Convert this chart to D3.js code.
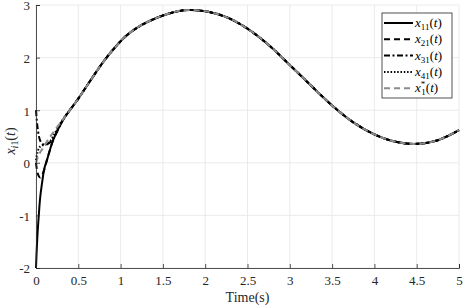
<!DOCTYPE html>
<html>
<head>
<meta charset="utf-8">
<script src="https://cdn.jsdelivr.net/npm/d3@7"></script>
<style>
  body { margin: 0; background: #fff; }
  svg { display: block; font-family: "Times New Roman", "Liberation Serif", serif; }
</style>
</head>
<body>
<svg id="chart" width="463" height="308"></svg>
<script>
// early transient part (t <= 0.35), each agent starts from its own value
const timeEarly = [0, 0.01, 0.02, 0.035, 0.05, 0.07, 0.1, 0.13, 0.16, 0.2, 0.25, 0.3, 0.35];
const x11Early = [-2, -1.6, -1.3, -0.95, -0.65, -0.4, -0.1, 0.05, 0.22, 0.42, 0.6, 0.76, 0.89];
const x21Early = [0, -0.12, -0.2, -0.26, -0.28, -0.24, -0.12, 0.06, 0.22, 0.42, 0.6, 0.76, 0.89];
const x31Early = [1, 0.8, 0.65, 0.5, 0.42, 0.37, 0.34, 0.35, 0.38, 0.46, 0.6, 0.76, 0.89];
const x41Early = [0.05, 0.14, 0.21, 0.28, 0.31, 0.33, 0.34, 0.36, 0.4, 0.5, 0.64, 0.78, 0.9];
const x1StarEarly = [0, 0.05, 0.1, 0.15, 0.2, 0.25, 0.33, 0.41, 0.48, 0.57, 0.68, 0.78, 0.89];

// after consensus all curves follow the reference x1*
const timeMain = [0.4, 0.5, 0.6, 0.7, 0.8, 0.9, 1, 1.1, 1.25, 1.5, 1.75, 2, 2.25, 2.5, 2.75, 3, 3.25, 3.5, 3.75, 4, 4.25, 4.5, 4.75, 5];
const x1StarMain = [1.0, 1.22, 1.46, 1.7, 1.93, 2.13, 2.31, 2.46, 2.62, 2.8, 2.9, 2.88, 2.77, 2.55, 2.24, 1.86, 1.47, 1.09, 0.77, 0.54, 0.4, 0.36, 0.43, 0.62];

const xTicks = [0, 0.5, 1, 1.5, 2, 2.5, 3, 3.5, 4, 4.5, 5];
const yTicks = [-2, -1, 0, 1, 2, 3];

const seriesNames = ["11", "21", "31", "41", "star"];
const earlyValues = [x11Early, x21Early, x31Early, x41Early, x1StarEarly];

const svg = d3.select("#chart");
const margin = { top: 5, right: 4, bottom: 40, left: 36 };
const width = 463 - margin.left - margin.right;
const height = 308 - margin.top - margin.bottom;

const g = svg.append("g")
    .attr("transform", "translate(" + margin.left + "," + margin.top + ")");

const x = d3.scaleLinear().domain([0, 5]).range([0, width]);
const y = d3.scaleLinear().domain([-2, 3]).range([height, 0]);

// grid
g.append("g").selectAll("line").data(xTicks).enter().append("line")
    .attr("x1", d => x(d)).attr("x2", d => x(d))
    .attr("y1", 0).attr("y2", height)
    .attr("stroke", "#e6e6e6").attr("stroke-width", 0.8);
g.append("g").selectAll("line").data(yTicks).enter().append("line")
    .attr("x1", 0).attr("x2", width)
    .attr("y1", d => y(d)).attr("y2", d => y(d))
    .attr("stroke", "#e6e6e6").attr("stroke-width", 0.8);

// build the series
const series = seriesNames.map((name, i) => {
    const pts = timeEarly.map((t, j) => ({ t: t, v: earlyValues[i][j] }));
    timeMain.forEach((t, j) => pts.push({ t: t, v: x1StarMain[j] }));
    return { name: name, points: pts };
});

const styles = {
    "11": { stroke: "#000", dash: null, w: 2 },
    "21": { stroke: "#000", dash: "6,4", w: 2 },
    "31": { stroke: "#000", dash: "6,2.5,2,2.5", w: 2 },
    "41": { stroke: "#000", dash: "1.5,1.8", w: 2 },
    "star": { stroke: "#8c8c8c", dash: "6,4", w: 2 }
};

const line = d3.line()
    .x(d => x(d.t))
    .y(d => y(d.v))
    .curve(d3.curveCatmullRom.alpha(0.5));

g.selectAll(".series").data(series).enter().append("path")
    .attr("class", "series")
    .attr("fill", "none")
    .attr("stroke", d => styles[d.name].stroke)
    .attr("stroke-width", d => styles[d.name].w)
    .attr("stroke-dasharray", d => styles[d.name].dash)
    .attr("d", d => line(d.points));

// axes (MATLAB style, ticks inside)
const xAxis = g.append("g")
    .attr("transform", "translate(0," + height + ")")
    .call(d3.axisBottom(x).tickValues(xTicks).tickSize(-4).tickPadding(8).tickFormat(d => String(d)));
const yAxis = g.append("g")
    .call(d3.axisLeft(y).tickValues(yTicks).tickSize(-4).tickPadding(6).tickFormat(d => String(d)));

[xAxis, yAxis].forEach(a => {
    a.select(".domain").attr("stroke", "#262626").attr("stroke-width", 0.8);
    a.selectAll(".tick line").attr("stroke", "#262626").attr("stroke-width", 0.8);
    a.selectAll(".tick text")
        .attr("fill", "#262626")
        .attr("font-family", null)
        .style("font-family", "'Times New Roman', 'Liberation Serif', serif")
        .style("font-size", "13px");
});
yAxis.selectAll(".tick text").attr("dy", "0.38em");

// axis labels
svg.append("text")
    .attr("x", margin.left + width / 2)
    .attr("y", 302)
    .attr("text-anchor", "middle")
    .attr("fill", "#262626")
    .style("font-size", "14px")
    .text("Time(s)");

const yl = svg.append("text")
    .attr("transform", "translate(15,141) rotate(-90)")
    .attr("text-anchor", "middle")
    .attr("fill", "#262626")
    .style("font-size", "14px");
yl.append("tspan").style("font-style", "italic").text("x");
yl.append("tspan").attr("dy", 3).style("font-size", "10px").style("font-style", "italic").text("i");
yl.append("tspan").style("font-size", "10px").text("1");
yl.append("tspan").attr("dy", -3).text("(");
yl.append("tspan").style("font-style", "italic").text("t");
yl.append("tspan").text(")");

// legend
const legend = svg.append("g").attr("transform", "translate(382,13)");
legend.append("rect")
    .attr("width", 70).attr("height", 85)
    .attr("fill", "#fff")
    .attr("stroke", "#262626").attr("stroke-width", 0.8);

const legendRows = legend.selectAll(".legend-item").data(seriesNames).enter().append("g")
    .attr("class", "legend-item")
    .attr("transform", (d, i) => "translate(0," + (10 + i * 16.3) + ")");

legendRows.append("line")
    .attr("x1", 2).attr("x2", 31)
    .attr("stroke", d => styles[d].stroke)
    .attr("stroke-width", d => styles[d].w)
    .attr("stroke-dasharray", d => styles[d].dash);

legendRows.each(function (d) {
    const t = d3.select(this).append("text")
        .attr("x", 33).attr("y", 4)
        .attr("fill", "#000")
        .style("font-size", "13px");
    t.append("tspan").style("font-style", "italic").text("x");
    if (d === "star") {
        t.append("tspan").attr("dy", -5).style("font-size", "9px").text("*");
        t.append("tspan").attr("dx", -4).attr("dy", 8).style("font-size", "9px").text("1");
        t.append("tspan").attr("dy", -3).text("(");
    } else {
        t.append("tspan").attr("dy", 3).style("font-size", "9px").text(d);
        t.append("tspan").attr("dy", -3).text("(");
    }
    t.append("tspan").style("font-style", "italic").text("t");
    t.append("tspan").text(")");
});
</script>
</body>
</html>
